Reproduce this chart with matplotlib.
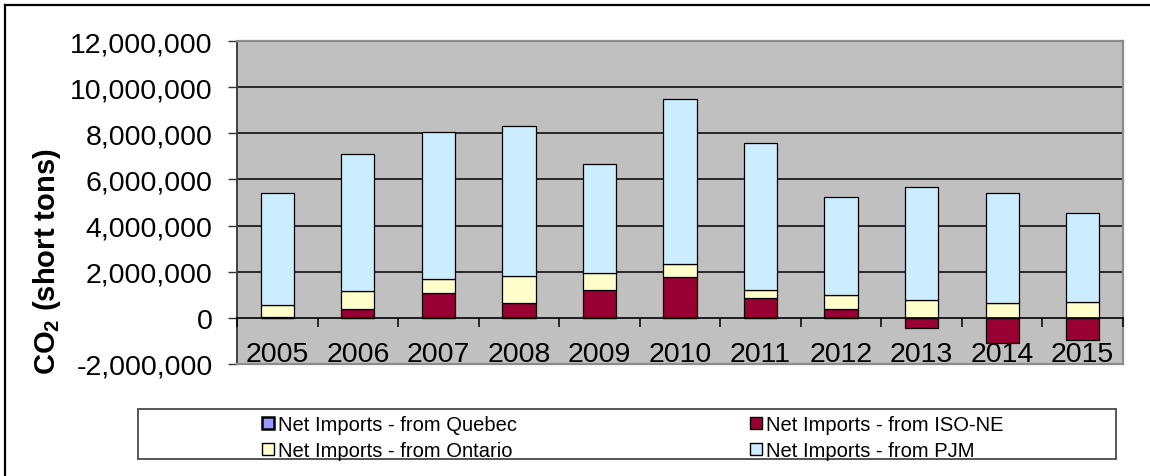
import matplotlib
matplotlib.use("Agg")
import matplotlib.pyplot as plt
from matplotlib.patches import Patch, Rectangle
from matplotlib.lines import Line2D
import numpy as np

plt.rcParams['font.family'] = ['Liberation Sans', 'DejaVu Sans']
plt.rcParams['mathtext.fontset'] = 'custom'
plt.rcParams['mathtext.rm'] = 'Liberation Sans'
plt.rcParams['mathtext.bf'] = 'Liberation Sans:bold'

years = ['2005', '2006', '2007', '2008', '2009', '2010', '2011', '2012', '2013', '2014', '2015']
quebec = [0, 0, 0, 0, 0, 0, 0, 0, 0, 0, 0]
iso_ne = [50000, 370000, 1090000, 640000, 1190000, 1750000, 840000, 370000, -430000, -1090000, -970000]
ontario = [490000, 790000, 580000, 1190000, 740000, 580000, 360000, 630000, 790000, 660000, 700000]
pjm = [4870000, 5960000, 6380000, 6470000, 4720000, 7140000, 6390000, 4220000, 4900000, 4770000, 3850000]

series_names = ['Net Imports - from Quebec', 'Net Imports - from ISO-NE',
                'Net Imports - from Ontario', 'Net Imports - from PJM']
series_vals = [quebec, iso_ne, ontario, pjm]
series_colors = ['#9999FF', '#990033', '#FFFFCC', '#CCECFF']

y_ticks = [-2000000, 0, 2000000, 4000000, 6000000, 8000000, 10000000, 12000000]

W, H = 1150, 477
fig = plt.figure(figsize=(W / 100, H / 100), dpi=100)
ax = fig.add_axes([237 / W, 1 - 365 / H, (1123 - 237) / W, (365 - 42) / H])
ax.set_facecolor('#C0C0C0')

x = np.arange(len(years))
pos_base = np.zeros(len(years))
neg_base = np.zeros(len(years))
for vals, col in zip(series_vals, series_colors):
    v = np.array(vals, dtype=float)
    bottoms = np.where(v >= 0, pos_base, neg_base)
    ax.bar(x, v, width=0.414, bottom=bottoms, color=col, edgecolor='black',
           linewidth=0.9, zorder=3)
    pos_base = pos_base + np.where(v > 0, v, 0)
    neg_base = neg_base + np.where(v < 0, v, 0)

ymin, ymax = -2000000, 12000000
ax.set_ylim(ymin, ymax)
ax.set_xlim(-0.5, len(years) - 0.5)
ax.set_yticks(y_ticks)
ax.set_yticklabels([f'{t:,}' for t in y_ticks], fontsize=20.5)
ax.tick_params(axis='y', direction='out', length=6.5, width=1, pad=11, color='#333333')
ax.set_xticks([])
ax.yaxis.grid(True, color='black', linewidth=1.1, zorder=1)
ax.set_axisbelow(True)
gl = ax.get_ygridlines()
gl[0].set_visible(False)
gl[1].set_visible(False)
gl[-1].set_visible(False)

for s in ['top', 'right', 'bottom']:
    ax.spines[s].set_color('#8C8C8C')
    ax.spines[s].set_linewidth(1.6)
ax.spines['left'].set_color('#404040')
ax.spines['left'].set_linewidth(1.4)

# category axis at y = 0
loc = (0 - ymin) / (ymax - ymin)
sec = ax.secondary_xaxis(loc)
sec.set_xticks(np.arange(-0.5, len(years) + 0.5, 1.0))
sec.set_xticklabels([])
sec.set_xticks(x, minor=True)
sec.set_xticklabels(years, minor=True, fontsize=20.5)
sec.tick_params(axis='x', which='major', direction='out', length=6.5, width=1.1, color='black')
sec.tick_params(axis='x', which='minor', length=0, pad=17)
sec.spines['bottom'].set_color('black')
sec.spines['bottom'].set_linewidth(1.2)
sec.set_zorder(4)

fig.text(47 / W, 1 - 262 / H, r'CO$_\mathbf{2}$ (short tons)', rotation=90,
         fontsize=21, fontweight='bold', ha='center', va='center')

# legend box
fig.add_artist(Rectangle((138 / W, 1 - 460 / H), (1116 - 138) / W, (460 - 410) / H,
                         transform=fig.transFigure, facecolor='white',
                         edgecolor='#555555', linewidth=1.4))
handles = [Patch(facecolor=c, edgecolor='black', linewidth=1.0) for c in series_colors]
handles[0].set_linewidth(1.8)
leg_kw = dict(frameon=False, fontsize=14.5, handlelength=0.6, handleheight=0.6,
              handletextpad=0.2, labelspacing=0.35, borderpad=0, borderaxespad=0,
              loc='upper left')
fig.legend([handles[0], handles[2]], [series_names[0], series_names[2]],
           bbox_to_anchor=(262 / W, 1 - 416 / H), **leg_kw)
fig.legend([handles[1], handles[3]], [series_names[1], series_names[3]],
           bbox_to_anchor=(750 / W, 1 - 416 / H), **leg_kw)

# outer chart frame (top and left edges)
fig.add_artist(Line2D([5 / W, 1], [1 - 6 / H, 1 - 6 / H], transform=fig.transFigure,
                      color='black', linewidth=1.6))
fig.add_artist(Line2D([5 / W, 5 / W], [0, 1 - 6 / H], transform=fig.transFigure,
                      color='black', linewidth=1.6))

fig.savefig('out.png', dpi=100)
